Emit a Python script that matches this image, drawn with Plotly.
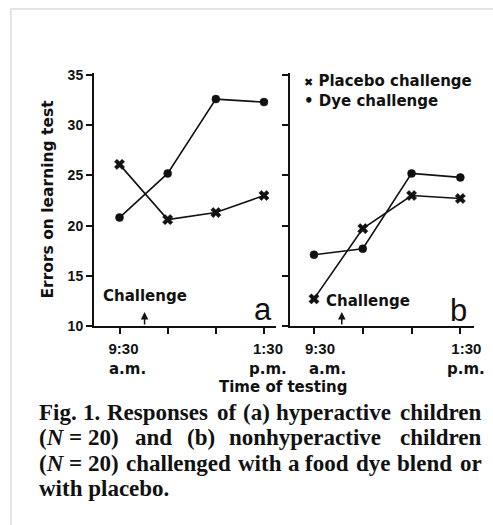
import plotly.graph_objects as go

# Test sessions (9:30 a.m. to 1:30 p.m.), index 0..3
sessions = [0, 1, 2, 3]
tick_labels = ["9:30", "", "", "1:30"]
tick_suffix = ["a.m.", "p.m."]

# Mean errors on the learning test
hyper_placebo = [26.1, 20.6, 21.3, 23.0]
hyper_dye = [20.8, 25.2, 32.6, 32.3]
nonhyper_placebo = [12.7, 19.7, 23.0, 22.7]
nonhyper_dye = [17.1, 17.7, 25.2, 24.8]

y_ticks = [10, 15, 20, 25, 30, 35]

BLACK = "#111111"
SANS_B = dict(family="DejaVu Sans", size=15, color=BLACK, weight="bold")
NUM_B = dict(family="Liberation Sans", size=14, color=BLACK, weight="bold")
SERIF = dict(family="Liberation Serif", size=23, color=BLACK, weight="bold")

fig = go.Figure()


def add_series(xaxis, yaxis, values, symbol, size):
    fig.add_trace(go.Scatter(
        x=sessions, y=values, xaxis=xaxis, yaxis=yaxis,
        mode="lines+markers",
        line=dict(color=BLACK, width=1.6),
        marker=dict(symbol=symbol, size=size, color=BLACK,
                    line=dict(width=0.5, color=BLACK)),
        showlegend=False,
    ))


add_series("x", "y", hyper_placebo, "x", 9)
add_series("x", "y", hyper_dye, "circle", 8)
add_series("x2", "y2", nonhyper_placebo, "x", 9)
add_series("x2", "y2", nonhyper_dye, "circle", 8)

axis_common = dict(
    showline=True, linewidth=2, linecolor=BLACK,
    ticks="outside", ticklen=6, tickwidth=2, tickcolor=BLACK,
    showgrid=False, zeroline=False,
)

fig.update_layout(
    width=493, height=525,
    margin=dict(l=94, r=15, t=73, b=199),
    paper_bgcolor="white", plot_bgcolor="white",
    xaxis=dict(domain=[0, 0.479], range=[-0.53, 3.25],
               tickvals=sessions, ticktext=tick_labels,
               tickfont=dict(NUM_B, size=15), ticklabelshift=4,
               ticklabelstandoff=2, **axis_common),
    xaxis2=dict(domain=[0.516, 1], range=[-0.49, 3.28],
                tickvals=sessions, ticktext=tick_labels,
                tickfont=dict(NUM_B, size=15), ticklabelshift=6,
                ticklabelstandoff=2, anchor="y2", **axis_common),
    yaxis=dict(range=[10, 35.2], tickvals=y_ticks, tickfont=NUM_B,
               title=dict(text="Errors on learning test",
                          font=dict(SANS_B, size=15.5), standoff=10),
               **axis_common),
    yaxis2=dict(range=[10, 35.2], tickvals=y_ticks, showticklabels=False,
                anchor="x2", **axis_common),
)

ann = []
# second line of the time labels
for xref, idx, txt, shift in [("x", 0, tick_suffix[0], 8), ("x", 3, tick_suffix[1], 4),
                              ("x2", 0, tick_suffix[0], 14), ("x2", 3, tick_suffix[1], 6)]:
    ann.append(dict(x=sessions[idx], xref=xref, y=0, yref="paper", yshift=-43,
                    xshift=shift, text=txt, showarrow=False, font=SANS_B,
                    xanchor="center", yanchor="middle"))

ann.append(dict(x=0.497, xref="paper", y=0, yref="paper", yshift=-61,
                text="Time of testing", showarrow=False, font=SANS_B,
                xanchor="center", yanchor="middle"))

# challenge markers
for xref, yref, ax_x, text_dx, text_dy in [("x", "y", 0.52, 0, -30), ("x2", "y2", 0.57, 26, -25)]:
    ann.append(dict(x=ax_x, xref=xref, y=11.4, yref=yref, text="",
                    showarrow=True, arrowhead=2, arrowsize=1, arrowwidth=1.5,
                    arrowcolor=BLACK, ax=0, ay=14))
    ann.append(dict(x=ax_x, xref=xref, y=10, yref=yref, xshift=text_dx, yshift=-text_dy,
                    text="Challenge", showarrow=False, font=SANS_B,
                    xanchor="center", yanchor="middle"))

# panel letters
ann.append(dict(x=1, xref="x domain", y=0, yref="y domain", xshift=-13, yshift=17,
                text="a", showarrow=False,
                font=dict(family="Liberation Sans", size=31, color=BLACK),
                xanchor="center", yanchor="middle"))
ann.append(dict(x=1, xref="x2 domain", y=0, yref="y2 domain", xshift=-16, yshift=16,
                text="b", showarrow=False,
                font=dict(family="Liberation Sans", size=31, color=BLACK),
                xanchor="center", yanchor="middle"))

# key
ann.append(dict(x=0, xref="x2 domain", y=1, yref="y2 domain", xshift=12, yshift=-8,
                text="<span style='font-size:11px'>✖</span> Placebo challenge",
                showarrow=False, font=SANS_B, xanchor="left", yanchor="middle"))
ann.append(dict(x=0, xref="x2 domain", y=1, yref="y2 domain", xshift=12, yshift=-28,
                text="• Dye challenge", showarrow=False, font=SANS_B,
                xanchor="left", yanchor="middle"))


def px_to_paper_x(px):
    return (px - 94) / 384


def px_to_paper_y(py):
    return (326 - py) / 253


# caption, set word by word so that lines 1-3 are justified
CAP_LEFT, CAP_RIGHT = 36, 488
caption = [
    (["Fig.", "1.", "Responses", "of", "(a)", "hyperactive", "children"],
     [36, 81.2, 104.9, 216.4, 242.2, 275.9]),
    (["(<i>N</i> = 20)", "and", "(b)", "nonhyperactive", "children"],
     [36, 133.1, 185.7, 228.8]),
    (["(<i>N</i> = 20)", "challenged", "with", "a", "food", "dye", "blend", "or"],
     [36, 124.5, 237.0, 288.0, 305.5, 356.5, 398.0]),
    (["with placebo."], [36]),
]
line_y = [412, 437.5, 463, 488.5]
for (words, starts), py in zip(caption, line_y):
    for i, w in enumerate(words):
        last = i == len(words) - 1 and len(words) > 1
        ann.append(dict(x=px_to_paper_x(CAP_RIGHT if last else starts[i]), xref="paper",
                        y=px_to_paper_y(py), yref="paper", text=w, showarrow=False,
                        font=SERIF, xanchor="right" if last else "left",
                        yanchor="middle"))

fig.update_layout(annotations=ann)

# faint page edge
fig.add_shape(type="rect", xref="paper", yref="paper",
              x0=px_to_paper_x(10), x1=px_to_paper_x(520),
              y0=px_to_paper_y(560), y1=px_to_paper_y(9),
              line=dict(color="#e4e4e4", width=2), layer="below")

fig.write_html("out.html")
